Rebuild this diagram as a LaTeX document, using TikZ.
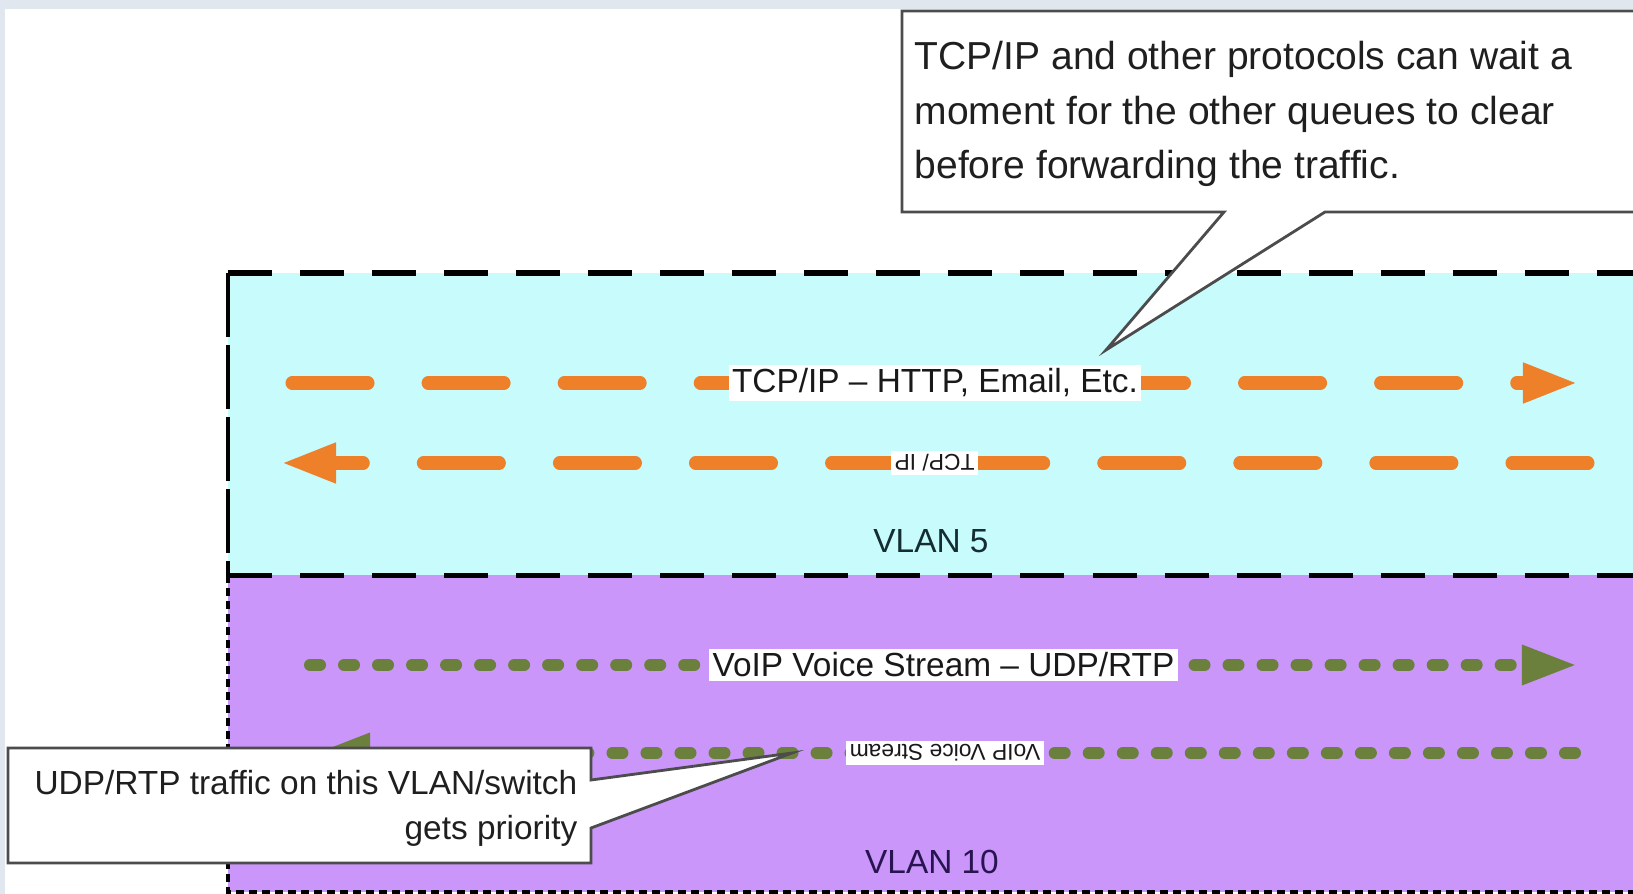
\documentclass[tikz,border=0pt]{standalone}
\usepackage{fontspec}
\setmainfont{Liberation Sans}
\usetikzlibrary{arrows.meta}

\definecolor{vlancyan}{RGB}{200,252,252}
\definecolor{vlanpurple}{RGB}{202,150,250}
\definecolor{tcporange}{RGB}{238,128,42}
\definecolor{voipgreen}{RGB}{108,128,62}
\definecolor{winframe}{RGB}{225,231,239}
\definecolor{vlanfiveink}{RGB}{20,45,50}
\definecolor{vlantenink}{RGB}{40,20,80}

\begin{document}
\begin{tikzpicture}[x=0.01cm,y=-0.01cm,
    flowtip/.style={-{Triangle[length=5.5mm,width=3.7mm]}},
    tcpflow/.style={flowtip,draw=tcporange,line width=1.3mm,line cap=round,
      dash pattern=on 7.6mm off 6mm},
    voipflow/.style={flowtip,draw=voipgreen,line width=1.2mm,line cap=round,
      dash pattern=on 1mm off 2.4mm},
    flowlabel/.style={fill=white,inner sep=1pt,text=black!90,
      font=\fontsize{9.5}{11}\selectfont},
    backlabel/.style={fill=white,inner sep=1pt,rotate=180,text=black!90,
      font=\fontsize{6.5}{8}\selectfont},
    vlanlabel/.style={font=\fontsize{9.5}{11}\selectfont},
    bubble/.style={draw=black!70,fill=white,line width=0.8pt,line join=miter},
    bubbletext/.style={inner sep=0pt,text=black!88},
  ]

  % window frame
  \useasboundingbox (0,0) rectangle (1633,894);
  \clip (0,0) rectangle (1633,894);
  \fill[winframe] (0,0) rectangle (1633,894);
  \fill[white] (5,9) rectangle (1633,894);

  % the two VLANs
  \fill[vlancyan] (228,273) rectangle (1640,575);
  \fill[vlanpurple] (228,575) rectangle (1640,892);
  \draw[line width=0.6mm,dash pattern=on 4.4mm off 2.8mm] (228,273) -- (1640,273);
  \draw[line width=0.5mm,dash pattern=on 4.4mm off 2.8mm] (228,575) -- (1640,575);
  \draw[line width=0.4mm,dash pattern=on 6.4mm off 0.8mm] (228,273) -- (228,575);
  \draw[line width=0.4mm,dash pattern=on 0.8mm off 0.5mm] (228,575) -- (228,892) -- (1640,892);

  \node[vlanlabel,text=vlanfiveink] (vlan5) at (931,541) {VLAN 5};
  \node[vlanlabel,text=vlantenink] (vlan10) at (932,862) {VLAN 10};

  % flow end points
  \coordinate (tcpout) at (292,383);
  \coordinate (tcpoutend) at (1578,383);
  \coordinate (tcpback) at (1588,463);
  \coordinate (tcpbackend) at (281,463);
  \coordinate (voipout) at (310,665);
  \coordinate (voipoutend) at (1577,665);
  \coordinate (voipback) at (1575,753);
  \coordinate (voipbackend) at (315,753);

  \draw[tcpflow] (tcpout) -- node[flowlabel] (tcpname) {TCP/IP -- HTTP, Email, Etc.} (tcpoutend);
  \draw[tcpflow] (tcpback) -- node[backlabel] (tcpbackname) {TCP/ IP} (tcpbackend);
  \draw[voipflow] (voipout) -- node[flowlabel] (voipname) {VoIP Voice Stream -- UDP/RTP} (voipoutend);
  \draw[voipflow] (voipback) -- node[backlabel] (voipbackname) {VoIP Voice Stream} (voipbackend);

  % callouts
  \coordinate (waittip) at (1106,350);
  \coordinate (priotip) at (792,753);
  \draw[bubble] (902,11) -- (1660,11) -- (1660,212) -- (1325,212) -- (waittip)
    -- (1224,212) -- (902,212) -- cycle;
  \draw[bubble] (8,748) -- (591,748) -- (591,780) -- (priotip) -- (591,828)
    -- (591,863) -- (8,863) -- cycle;

  \node[bubbletext,anchor=north west,align=left,font=\fontsize{11.1}{15.4}\selectfont]
    (waitnote) at (914,41) {TCP/IP and other protocols can wait a\\
    moment for the other queues to clear\\before forwarding the traffic.};
  \node[bubbletext,anchor=north east,align=right,font=\fontsize{9.5}{12.8}\selectfont]
    (prionote) at (578,770) {UDP/RTP traffic on this VLAN/switch\\gets priority};

\end{tikzpicture}
\end{document}
